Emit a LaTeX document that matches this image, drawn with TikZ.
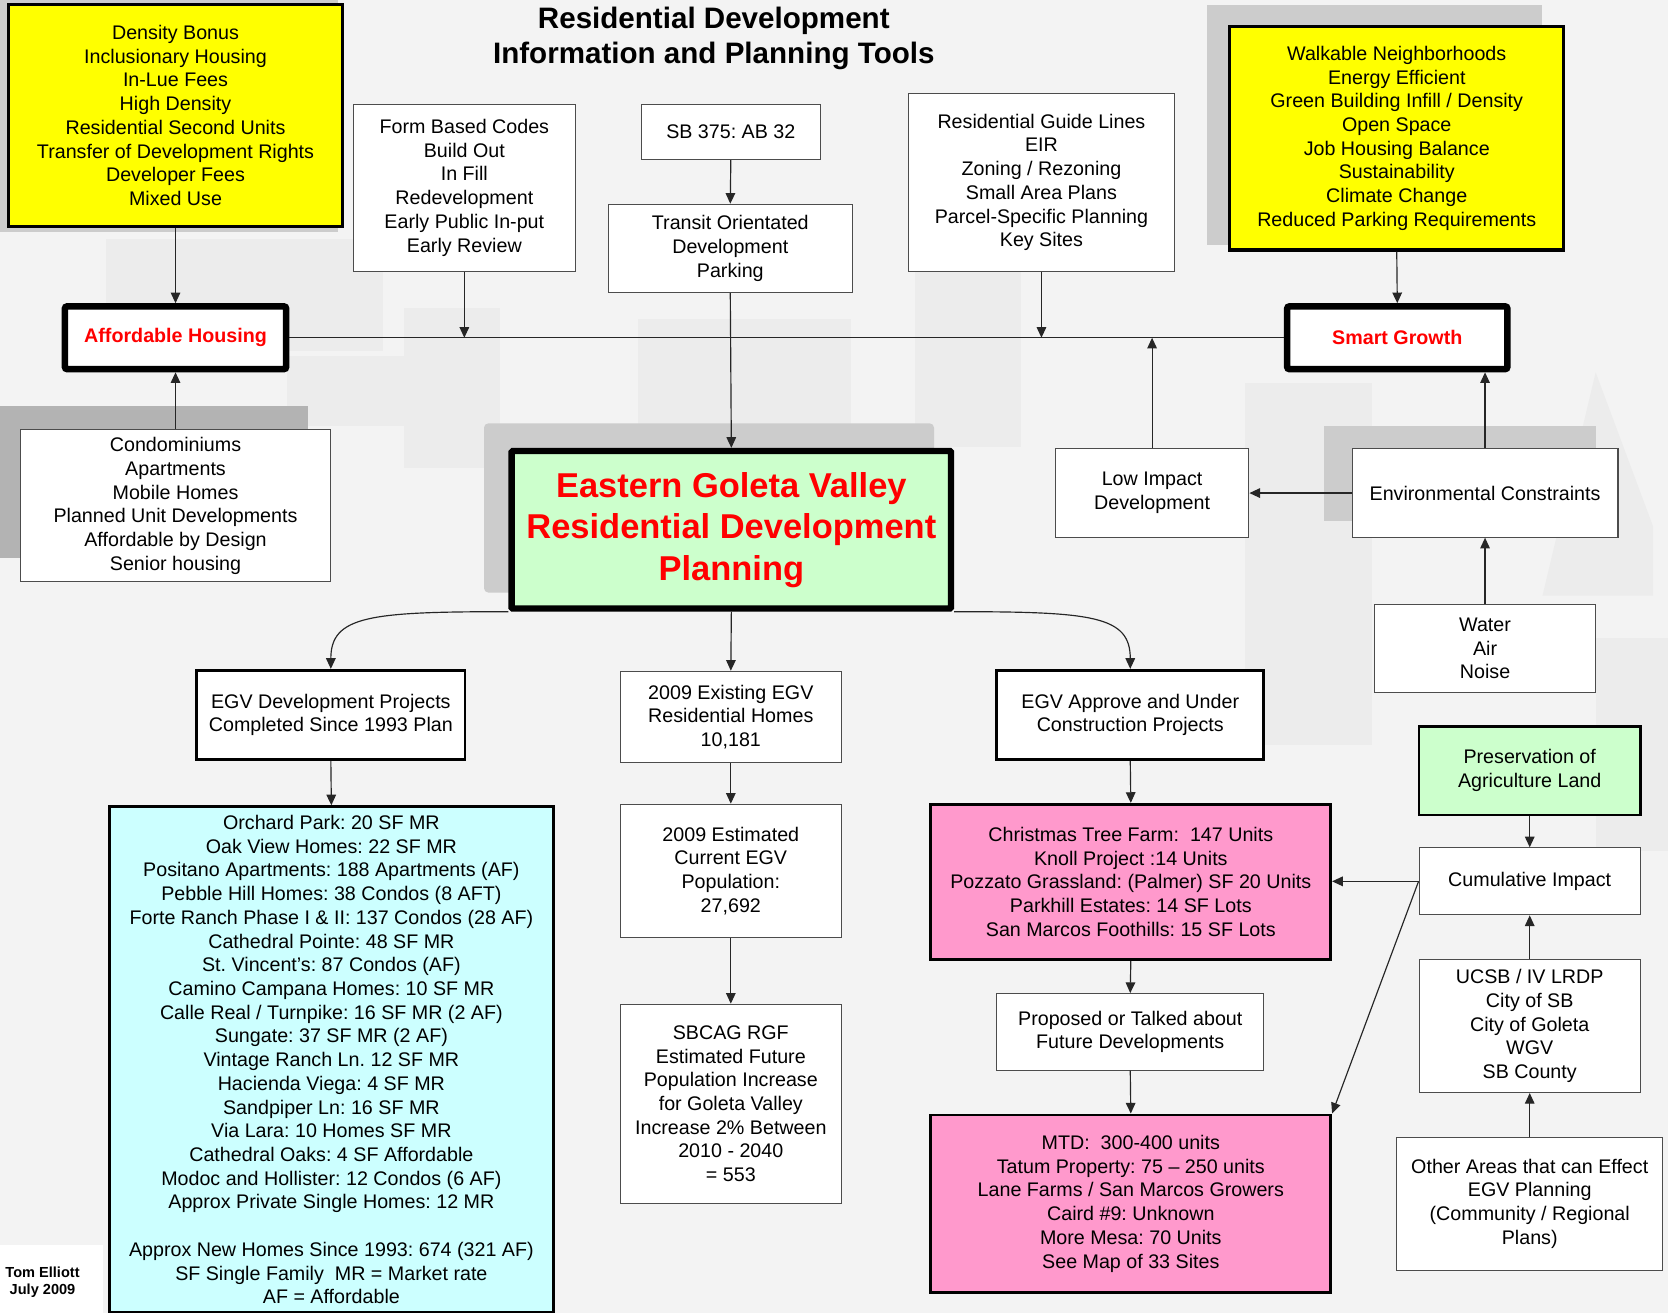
\documentclass[tikz,border=0pt]{standalone}
\usepackage{fontspec}
\setmainfont{Liberation Sans}
\usetikzlibrary{arrows.meta}
\definecolor{bgc}{RGB}{243,243,243}
\definecolor{bldA}{RGB}{204,204,204}
\definecolor{bldB}{RGB}{179,179,179}
\definecolor{bldC}{RGB}{236,236,236}
\definecolor{ylw}{RGB}{255,255,0}
\definecolor{cyn}{RGB}{204,255,255}
\definecolor{grn}{RGB}{204,255,204}
\definecolor{pnk}{RGB}{255,153,204}
\definecolor{rd}{RGB}{255,0,0}
\frenchspacing
\begin{document}
\begin{tikzpicture}[x=1pt,y=-1pt,
  txt/.style={font=\frenchspacing\fontsize{18.5}{22.3}\selectfont, align=center},
  box/.style={txt, draw=black!70, line width=1pt, fill=white, inner sep=2pt},
  heavybox/.style={box, draw=black, line width=2.5pt},
  yellowbox/.style={box, draw=black, line width=3pt, fill=ylw},
  keybox/.style={box, draw=black, line width=6pt, rounded corners=2pt},
  arr/.style={draw=black!85, line width=1.1pt, -{Triangle[length=10pt,width=9pt]}},
  conn/.style={draw=black!85, line width=1.1pt},
]
\useasboundingbox (0,0) rectangle (1568,1234);
\clip (0,0) rectangle (1568,1234);
% background and faint building silhouettes
\fill[bgc] (0,0) rectangle (1568,1234);
\fill[bldC] (100,225) rectangle (360,330);
\fill[bldC] (270,335) rectangle (415,400);
\fill[bldC] (380,290) rectangle (470,440);
\fill[bldC] (600,300) rectangle (800,420);
\fill[bldC] (860,205) rectangle (960,420);
\fill[bldC] (1170,360) rectangle (1290,700);
\fill[bldC] (1500,600) rectangle (1568,800);
\fill[bldC] (1450,560) -- (1500,350) -- (1554,495) -- (1554,560) -- cycle;
\fill[bldA] (0,0) rectangle (318,218);
\fill[bldB] (0,382) rectangle (290,525);
\fill[bldA, rounded corners=4pt] (455,398) rectangle (878,557);
\fill[bldA] (1135,5) rectangle (1450,230);
\fill[bldA] (1245,400) rectangle (1500,490);
\fill[white] (0,1170) rectangle (97,1234);

% title
\node[font=\bfseries\fontsize{27.8}{33}\selectfont, align=center] (title) at (671,36)
  {Residential Development\\Information and Planning Tools};

% top row
\node[yellowbox, minimum width=314pt, minimum height=209pt] (yl) at (165,108.5)
  {Density Bonus\\Inclusionary Housing\\In-Lue Fees\\High Density\\Residential Second Units\\Transfer of Development Rights\\Developer Fees\\Mixed Use};
\node[box, minimum width=209pt, minimum height=157pt] (form) at (436.5,176.5)
  {Form Based Codes\\Build Out\\In Fill\\Redevelopment\\Early Public In-put\\Early Review};
\node[box, minimum width=168pt, minimum height=52pt] (sb) at (687,124) {SB 375: AB 32};
\node[box, minimum width=229pt, minimum height=83pt] (tod) at (686.5,233.5)
  {Transit Orientated\\Development\\Parking};
\node[box, minimum width=250pt, minimum height=167pt] (rgl) at (979,171.5)
  {Residential Guide Lines\\EIR\\Zoning / Rezoning\\Small Area Plans\\Parcel-Specific Planning\\Key Sites};
\node[yellowbox, minimum width=314pt, minimum height=210pt] (yr) at (1313,130)
  {Walkable Neighborhoods\\Energy Efficient\\Green Building Infill / Density\\Open Space\\Job Housing Balance\\Sustainability\\Climate Change\\Reduced Parking Requirements};

% key boxes
\node[keybox, minimum width=208pt, minimum height=59pt] (ah) at (165,317.5)
  {\textcolor{rd}{\bfseries Affordable Housing}};
\node[keybox, minimum width=207pt, minimum height=59pt] (sg) at (1313.5,317.5)
  {\textcolor{rd}{\bfseries Smart Growth}};

\node[box, minimum width=292pt, minimum height=143pt] (condo) at (165,475.5)
  {Condominiums\\Apartments\\Mobile Homes\\Planned Unit Developments\\Affordable by Design\\Senior housing};

\node[keybox, fill=grn, rounded corners=1pt, minimum width=413pt, minimum height=148pt,
  font=\bfseries\fontsize{32.4}{39}\selectfont, text=rd] (ctr) at (687.5,498)
  {Eastern Goleta Valley\\Residential Development\\Planning};

\node[box, minimum width=182pt, minimum height=83pt] (lid) at (1083,463.5)
  {Low Impact\\Development};
\node[box, minimum width=250pt, minimum height=83pt] (env) at (1396,463.5)
  {Environmental Constraints};
\node[box, minimum width=208pt, minimum height=83pt] (wan) at (1396,609.5)
  {Water\\Air\\Noise};

% second tier
\node[heavybox, minimum width=252pt, minimum height=84pt] (egvdev) at (311,672)
  {EGV Development Projects\\Completed Since 1993 Plan};
\node[box, minimum width=208pt, minimum height=86pt] (exist) at (687,674)
  {2009 Existing EGV\\Residential Homes\\10,181};
\node[heavybox, minimum width=251pt, minimum height=84pt] (approve) at (1062.5,672)
  {EGV Approve and Under\\Construction Projects};
\node[heavybox, fill=grn, minimum width=208pt, minimum height=83pt] (pres) at (1438,724.5)
  {Preservation of\\Agriculture Land};

% cyan list
\node[heavybox, fill=cyn, anchor=north, minimum width=417pt, inner ysep=8pt] (cyan) at (311.5,757)
  {Orchard Park: 20 SF MR\\Oak View Homes: 22 SF MR\\Positano Apartments: 188 Apartments (AF)\\Pebble Hill Homes: 38 Condos (8 AFT)\\Forte Ranch Phase I \& II: 137 Condos (28 AF)\\Cathedral Pointe: 48 SF MR\\St. Vincent's: 87 Condos (AF)\\Camino Campana Homes: 10 SF MR\\Calle Real / Turnpike: 16 SF MR (2 AF)\\Sungate: 37 SF MR (2 AF)\\Vintage Ranch Ln. 12 SF MR\\Hacienda Viega: 4 SF MR\\Sandpiper Ln: 16 SF MR\\Via Lara: 10 Homes SF MR\\Cathedral Oaks: 4 SF Affordable\\Modoc and Hollister: 12 Condos (6 AF)\\Approx Private Single Homes: 12 MR\\[22.3pt]Approx New Homes Since 1993: 674 (321 AF)\\SF Single Family\ \ MR = Market rate\\AF = Affordable};

\node[box, minimum width=208pt, minimum height=125pt] (est) at (687,818.5)
  {2009 Estimated\\Current EGV\\Population:\\27,692};
\node[box, minimum width=208pt, minimum height=187pt] (sbcag) at (687,1037.5)
  {SBCAG RGF\\Estimated Future\\Population Increase\\for Goleta Valley\\Increase 2\% Between\\2010 - 2040\\= 553};

\node[heavybox, fill=pnk, minimum width=376pt, minimum height=146pt] (pink1) at (1063,829)
  {Christmas Tree Farm:\ \ 147 Units\\Knoll Project :14 Units\\Pozzato Grassland: (Palmer) SF 20 Units\\Parkhill Estates: 14 SF Lots\\San Marcos Foothills: 15 SF Lots};
\node[box, minimum width=251pt, minimum height=72pt] (prop) at (1062.5,970)
  {Proposed or Talked about\\Future Developments};
\node[heavybox, fill=pnk, minimum width=376pt, minimum height=167pt] (pink2) at (1063,1131.5)
  {MTD:\ \ 300-400 units\\Tatum Property: 75 -- 250 units\\Lane Farms / San Marcos Growers\\Caird \#9: Unknown\\More Mesa: 70 Units\\See Map of 33 Sites};

\node[box, minimum width=208pt, minimum height=63pt] (cum) at (1438,828.5) {Cumulative Impact};
\node[box, minimum width=208pt, minimum height=125pt] (ucsb) at (1438,964.5)
  {UCSB / IV LRDP\\City of SB\\City of Goleta\\WGV\\SB County};
\node[box, minimum width=250pt, minimum height=125pt] (other) at (1438,1131.5)
  {Other Areas that can Effect\\EGV Planning\\(Community / Regional\\Plans)};

\node[font=\bfseries\fontsize{13.7}{16}\selectfont, align=center] (tom) at (40,1205)
  {Tom Elliott\\July 2009};

% connectors
\draw[conn] (ah.east) -- (sg.west);
\draw[arr] (yl.south) -- (ah.north);
\draw[arr] (condo.north) -- (ah.south);
\draw[arr] (form.south) -- (form.south |- ah.east);
\draw[arr] (sb.south) -- (tod.north);
\draw[arr] (tod.south) -- (ctr.north);
\draw[arr] (rgl.south) -- (rgl.south |- ah.east);
\draw[arr] (lid.north) -- (lid.north |- sg.west);
\draw[arr] (yr.south) -- (sg.north);
\draw[arr] (env.north) -- (env.north |- sg.south);
\draw[arr] (env.west) -- (lid.east);
\draw[arr] (wan.north) -- (env.south);

\draw[arr] (ctr.south west) .. controls +(-130,0) and +(0,-50) .. (egvdev.north);
\draw[arr] (ctr.south east) .. controls +(130,0) and +(0,-50) .. (approve.north);
\draw[arr] (ctr.south) -- (exist.north);
\draw[arr] (egvdev.south) -- (cyan.north);
\draw[arr] (exist.south) -- (est.north);
\draw[arr] (est.south) -- (sbcag.north);
\draw[arr] (approve.south) -- (pink1.north);
\draw[arr] (pink1.south) -- (prop.north);
\draw[arr] (prop.south) -- (pink2.north);

\draw[arr] (pres.south) -- (cum.north);
\draw[arr] (cum.west) -- (cum.west -| pink1.east);
\draw[arr] (cum.west) -- (pink2.north east);
\draw[arr] (ucsb.north) -- (cum.south);
\draw[arr] (other.north) -- (ucsb.south);
\end{tikzpicture}
\end{document}
